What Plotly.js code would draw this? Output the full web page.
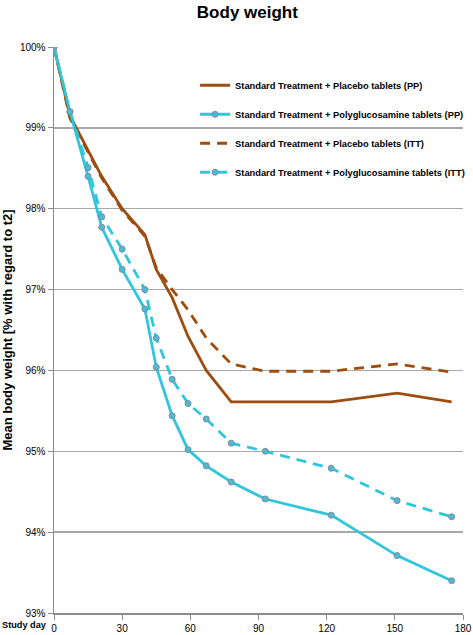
<!DOCTYPE html>
<html>
<head>
<meta charset="utf-8">
<script src="https://cdn.plot.ly/plotly-3.0.1.min.js"></script>
<style>html,body{margin:0;padding:0;background:#fff;}#chart{width:473px;height:635px;}</style>
</head>
<body>
<div id="chart"></div>
<script>
const studyDays = [0, 7, 15, 21, 30, 40, 45, 52, 59, 67, 78, 93, 122, 151, 175];
const placeboPP = [100, 99.15, 98.72, 98.40, 98.00, 97.68, 97.25, 96.90, 96.42, 96.00, 95.61, 95.61, 95.61, 95.72, 95.61];
const polyPP = [100, 99.20, 98.40, 97.77, 97.25, 96.76, 96.04, 95.44, 95.02, 94.82, 94.62, 94.41, 94.21, 93.71, 93.40];
const placeboITT = [100, 99.12, 98.70, 98.38, 97.98, 97.66, 97.27, 97.00, 96.75, 96.40, 96.08, 95.99, 95.99, 96.08, 95.98];
const polyITT = [100, 99.20, 98.51, 97.90, 97.50, 97.00, 96.40, 95.89, 95.59, 95.40, 95.10, 95.00, 94.79, 94.39, 94.19];
const seriesNames = [
  'Standard Treatment + Placebo tablets (PP)',
  'Standard Treatment + Polyglucosamine tablets (PP)',
  'Standard Treatment + Placebo tablets (ITT)',
  'Standard Treatment + Polyglucosamine tablets (ITT)'
];
const xTicks = [0, 30, 60, 90, 120, 150, 180];
const yTicks = [93, 94, 95, 96, 97, 98, 99, 100];

const brown = '#9c4d0f';
const cyan = '#2fc6dc';
const markerStyle = {size: 6, color: '#4bbcd6', line: {color: '#7d8c9c', width: 1}};

const traces = [
  {x: studyDays, y: placeboPP, name: seriesNames[0], mode: 'lines', line: {color: brown, width: 2.8}, legendgroup: 'a'},
  {x: studyDays, y: polyPP, name: seriesNames[1], mode: 'lines+markers', line: {color: cyan, width: 2.8}, marker: markerStyle, legendgroup: 'b'},
  {x: studyDays, y: placeboITT, name: seriesNames[2], mode: 'lines', line: {color: brown, width: 2.8, dash: '10px,7px'}, legendgroup: 'c'},
  {x: studyDays, y: polyITT, name: seriesNames[3], mode: 'lines+markers', line: {color: cyan, width: 2.8, dash: '10px,7px'}, marker: markerStyle, legendgroup: 'd'}
].map(t => Object.assign(t, {type: 'scatter', hoverinfo: 'skip'}));

const font = 'Liberation Sans, Arial, sans-serif';

const layout = {
  width: 473, height: 635,
  margin: {l: 54, r: 10, t: 47, b: 22, autoexpand: false},
  paper_bgcolor: '#fff', plot_bgcolor: '#fff',
  font: {family: font, size: 10, color: '#000'},
  title: {text: '<b>Body weight</b>', font: {family: font, size: 17, color: '#000'}, x: 0.523, xref: 'container', y: 0.981, yanchor: 'middle'},
  showlegend: true,
  legend: {
    x: 0.345, y: 0.958, xanchor: 'left', yanchor: 'top',
    bgcolor: 'rgba(0,0,0,0)', font: {family: font, size: 9.3, color: '#000', weight: 'bold'},
    traceorder: 'grouped', tracegroupgap: 10, itemwidth: 30
  },
  xaxis: {
    range: [0, 180], tickvals: xTicks, ticktext: xTicks.map(String),
    showgrid: false, zeroline: false, showline: true, linecolor: '#8c8c8c', linewidth: 1.5,
    ticks: 'outside', ticklen: 5, tickcolor: '#8c8c8c', tickfont: {family: font, size: 10, color: '#000'}
  },
  yaxis: {
    range: [93, 100], tickvals: yTicks, ticktext: yTicks.map(v => v + '%'),
    showgrid: true, gridcolor: '#a8a8a8', gridwidth: 1.5, zeroline: false,
    showline: true, linecolor: '#8c8c8c', linewidth: 1.5,
    ticks: 'outside', ticklen: 5, tickcolor: '#8c8c8c', tickfont: {family: font, size: 10, color: '#000'},
    title: {text: '<b>Mean body weight [% with regard to t2]</b>', font: {family: font, size: 13, color: '#000'}, standoff: 12}
  },
  annotations: [
    {text: '<b>Study day</b>', xref: 'paper', yref: 'paper', x: -54 / 409, y: 0, yshift: -12, xanchor: 'left', yanchor: 'middle', showarrow: false, font: {family: font, size: 9.2, color: '#000'}}
  ]
};

Plotly.newPlot('chart', traces, layout, {displayModeBar: false, staticPlot: true});
</script>
</body>
</html>
